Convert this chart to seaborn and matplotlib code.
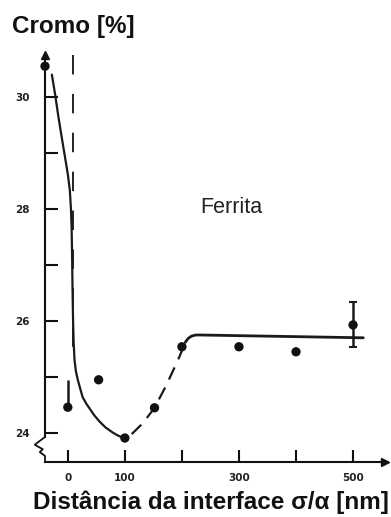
import matplotlib
matplotlib.use("Agg")
import matplotlib.pyplot as plt
import seaborn as sns
import pandas as pd

# Measured chromium content across the sigma/alpha interface
dist_nm = [-40, 0, 54, 100, 152, 200, 300, 400, 500]
cromo_pct = [30.55, 24.46, 24.95, 23.91, 24.45, 25.54, 25.54, 25.45, 25.93]

# Error bars: (x, lower, upper)
err_x = [0, 500]
err_low = [24.46, 25.54]
err_high = [24.95, 26.34]

# Depletion profile drawn through the data (solid)
prof_x = [-28, -22, -17, -11, -5, 0, 3.5, 5.5, 6.7, 7.5, 8.3, 9.2, 10.2,
          11.8, 14.2, 17.5, 21.5, 26, 32, 38, 46, 56, 66, 77, 85, 91, 96, 100]
prof_y = [30.40, 30.03, 29.68, 29.30, 28.93, 28.62, 28.34, 28.00, 27.65,
          27.15, 26.55, 26.00, 25.62, 25.30, 25.10, 24.95, 24.80, 24.64,
          24.53, 24.44, 24.32, 24.20, 24.10, 24.02, 23.97, 23.94, 23.92, 23.91]

# Recovery branch (dashed)
rec_x = [112, 132, 152, 172, 193, 203]
rec_y = [23.98, 24.18, 24.45, 24.84, 25.30, 25.54]

# Ferrite bulk level (solid)
bulk_x = [206, 211, 217, 224, 232, 518]
bulk_y = [25.62, 25.69, 25.73, 25.75, 25.75, 25.70]

x_ticks = [0, 100, 200, 300, 400, 500]
x_ticklabels = ["0", "100", "", "300", "", "500"]
y_major = [24, 26, 28, 30]
y_minor = [25, 27, 29]

sns.set_style("ticks")
plt.rcParams["font.family"] = ["Liberation Sans", "DejaVu Sans"]

fig = plt.figure(figsize=(3.91, 5.17), dpi=100)
ax = fig.add_axes([45 / 391, 1 - 462 / 517, 340 / 391, 407 / 517])
ax.set_xlim(-40, 556)
ax.set_ylim(23.482, 30.75)

lw_axis = 1.5
for s in ["top", "right"]:
    ax.spines[s].set_visible(False)
ax.spines["bottom"].set_linewidth(lw_axis)
ax.spines["left"].set_linewidth(lw_axis)
ax.spines["left"].set_bounds(23.93, 30.75)
ax.spines["bottom"].set_color("#111111")
ax.spines["left"].set_color("#111111")

# axis break on the y axis
brk_x = [-40, -57.9, -43.9, -49.1, -40, -40]
brk_y = [23.93, 23.79, 23.71, 23.66, 23.59, 23.482]
ax.plot(brk_x, brk_y, color="#111111", lw=1.3, clip_on=False)

# arrow heads
ax.plot(0, 1, marker="^", color="#111111", markersize=6, transform=ax.transAxes, clip_on=False)
ax.plot(1, 0, marker=">", color="#111111", markersize=6, transform=ax.transAxes, clip_on=False)

# interface position
ax.plot([9, 9], [30.75, 25.4], color="#222222", lw=1.4, ls=(0, (10, 10)), clip_on=False)

prof = pd.DataFrame({"x": prof_x, "y": prof_y})
rec = pd.DataFrame({"x": rec_x, "y": rec_y})
bulk = pd.DataFrame({"x": bulk_x, "y": bulk_y})
sns.lineplot(data=prof, x="x", y="y", sort=False, color="#1a1a1a", lw=1.6, ax=ax)
sns.lineplot(data=rec, x="x", y="y", sort=False, color="#1a1a1a", lw=1.6,
             ax=ax, linestyle=(0, (6, 4)))
sns.lineplot(data=bulk, x="x", y="y", sort=False, color="#1a1a1a", lw=2.0, ax=ax)

ax.vlines(err_x[0], err_low[0], err_high[0], color="#1a1a1a", lw=1.8)
ax.vlines(err_x[1], err_low[1], err_high[1], color="#1a1a1a", lw=1.8)
ax.hlines([err_high[1], err_low[1]], err_x[1] - 7, err_x[1] + 7, color="#1a1a1a", lw=1.5)

pts = pd.DataFrame({"x": dist_nm, "y": cromo_pct})
sns.scatterplot(data=pts, x="x", y="y", color="#111111", s=45, edgecolor="none",
                ax=ax, clip_on=False, zorder=5)

ax.set_xticks(x_ticks)
ax.set_xticklabels(x_ticklabels)
ax.set_yticks(y_major)
ax.set_yticklabels([str(v) for v in y_major])
ax.set_yticks(y_minor, minor=True)
ax.tick_params(axis="both", which="both", direction="in", length=9, width=1.5,
               color="#111111")
ax.tick_params(axis="x", pad=8)
ax.tick_params(axis="y", pad=11)
for lab in ax.get_xticklabels() + ax.get_yticklabels():
    lab.set_fontfamily("DejaVu Sans")
    lab.set_fontweight("bold")
    lab.set_fontsize(7.5)
    lab.set_color("#222222")

ax.set_xlabel("")
ax.set_ylabel("")

ax.text(200 / 391, 1 - 213 / 517, "Ferrita", fontsize=15.5, ha="left", va="baseline",
        color="#222222", transform=fig.transFigure)

fig.text(12 / 391, 1 - 33 / 517, "Cromo [%]", fontsize=17.5, fontweight="bold",
         ha="left", va="baseline", color="#111111")
fig.text(33 / 391, 1 - 509 / 517, "Distância da interface σ/α [nm]", fontsize=17.5,
         fontweight="bold", ha="left", va="baseline", color="#111111")

fig.savefig("out.png", dpi=100)
